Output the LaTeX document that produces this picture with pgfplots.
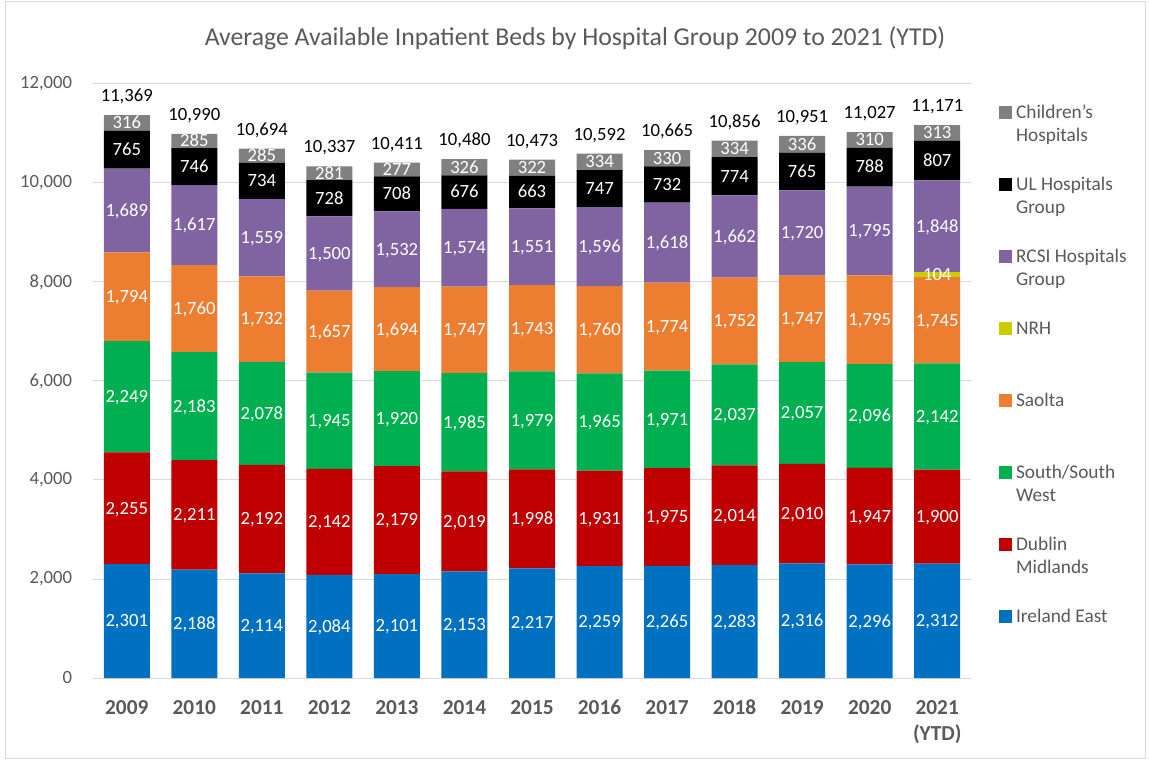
\documentclass[border=0pt]{standalone}
\usepackage{pgfplots}
\pgfplotsset{compat=1.18}
\usepackage{pgfplotstable}
\usepackage{fontspec}
\setmainfont{Carlito}
\definecolor{ie}{RGB}{0,112,192}
\definecolor{dm}{RGB}{192,0,0}
\definecolor{ssw}{RGB}{0,176,80}
\definecolor{sao}{RGB}{237,125,49}
\definecolor{nrh}{RGB}{204,204,0}
\definecolor{rcsi}{RGB}{128,100,162}
\definecolor{ul}{RGB}{0,0,0}
\definecolor{ch}{RGB}{128,128,128}
\definecolor{txt}{RGB}{89,89,89}
\definecolor{grd}{RGB}{217,217,217}
\pgfplotstableread{
x IE DM SSW SAO NRH RCSI UL CH TOT
0 2301 2255 2249 1794 0 1689 765 316 11369
1 2188 2211 2183 1760 0 1617 746 285 10990
2 2114 2192 2078 1732 0 1559 734 285 10694
3 2084 2142 1945 1657 0 1500 728 281 10337
4 2101 2179 1920 1694 0 1532 708 277 10411
5 2153 2019 1985 1747 0 1574 676 326 10480
6 2217 1998 1979 1743 0 1551 663 322 10473
7 2259 1931 1965 1760 0 1596 747 334 10592
8 2265 1975 1971 1774 0 1618 732 330 10665
9 2283 2014 2037 1752 0 1662 774 334 10856
10 2316 2010 2057 1747 0 1720 765 336 10951
11 2296 1947 2096 1795 0 1795 788 310 11027
12 2312 1900 2142 1745 104 1848 807 313 11171
}\data
\newcommand{\twol}[2]{\parbox[t]{3cm}{\raggedright #1\\#2}}
\pgfplotsset{
  /pgf/number format/.cd, fixed, precision=0, 1000 sep={,}, assume math mode=true,
  /pgfplots/.cd,
  lbl/.style={draw=none, mark=none, point meta=explicit, nodes near coords,
    every node near coord/.append style={anchor=base, yshift=-4.4pt, inner sep=0pt,
      text=white, font=\fontsize{14}{16}\selectfont}},
  geom/.style={scale only axis, width=658.5pt, height=445.5pt,
    xmin=-0.5, xmax=12.5, ymin=0, ymax=12000, clip=false},
}
\begin{document}
\begin{tikzpicture}
\useasboundingbox (-69.75pt,-61.5pt) rectangle (792pt,508.5pt);
\draw[grd, line width=0.75pt] (-65.25pt,-60pt) rectangle (789pt,507pt);
\node[text=txt, font=\fontsize{19.3}{22}\selectfont] at (361.5pt,480pt) {Average Available Inpatient Beds by Hospital Group 2009 to 2021 (YTD)};
\begin{axis}[geom,
  ybar stacked, bar width=34.5pt,
  axis line style={draw=none}, tick style={draw=none},
  ymajorgrids, grid style={grd, line width=0.75pt},
  ytick={0,2000,...,12000}, scaled y ticks=false,
  yticklabel style={font=\fontsize{14}{16}\selectfont, text=txt, inner sep=0pt, xshift=-15.5pt},
  xtick={0,...,12},
  xticklabels={2009,2010,2011,2012,2013,2014,2015,2016,2017,2018,2019,2020,{2021\\(YTD)}},
  xticklabel style={font=\bfseries\fontsize{16}{20}\selectfont, text=txt, align=center, inner sep=0pt, anchor=north, yshift=-16.5pt},
  reverse legend,
  legend image code/.code={\fill[#1] (0pt,-0.5pt) rectangle (9.75pt,9.25pt); \path (12.75pt,0pt);},
  legend style={at={(1.032,0.965)}, anchor=north west, draw=none, fill=none,
    inner sep=0pt, outer sep=0pt, row sep=0pt, column sep=0pt,
    cells={anchor=base west},
    nodes={inner sep=0pt, text=txt, font=\fontsize{14.5}{17.25}\selectfont,
      text height=10pt, text depth=44pt}},
]
\addplot[fill=ie, draw=none] table[x=x, y=IE] {\data};
\addlegendentry{Ireland East}
\addplot[fill=dm, draw=none] table[x=x, y=DM] {\data};
\addlegendentry{\twol{Dublin}{Midlands}}
\addplot[fill=ssw, draw=none] table[x=x, y=SSW] {\data};
\addlegendentry{\twol{South/South}{West}}
\addplot[fill=sao, draw=none] table[x=x, y=SAO] {\data};
\addlegendentry{Saolta}
\addplot[fill=nrh, draw=none] table[x=x, y=NRH] {\data};
\addlegendentry{NRH}
\addplot[fill=rcsi, draw=none] table[x=x, y=RCSI] {\data};
\addlegendentry{\twol{RCSI Hospitals}{Group}}
\addplot[fill=ul, draw=none] table[x=x, y=UL] {\data};
\addlegendentry{\twol{UL Hospitals}{Group}}
\addplot[fill=ch, draw=none] table[x=x, y=CH] {\data};
\addlegendentry{\twol{Children's}{Hospitals}}
\end{axis}
\begin{axis}[geom, axis lines=none, xtick=\empty, ytick=\empty]
\addplot[lbl] table[x=x, y expr=\thisrow{IE}/2, meta=IE] {\data};
\addplot[lbl] table[x=x, y expr=\thisrow{IE}+\thisrow{DM}/2, meta=DM] {\data};
\addplot[lbl] table[x=x, y expr=\thisrow{IE}+\thisrow{DM}+\thisrow{SSW}/2, meta=SSW] {\data};
\addplot[lbl] table[x=x, y expr=\thisrow{IE}+\thisrow{DM}+\thisrow{SSW}+\thisrow{SAO}/2, meta=SAO] {\data};
\addplot[lbl, skip coords between index={0}{12}] table[x=x, y expr=\thisrow{IE}+\thisrow{DM}+\thisrow{SSW}+\thisrow{SAO}+\thisrow{NRH}/2, meta=NRH] {\data};
\addplot[lbl] table[x=x, y expr=\thisrow{IE}+\thisrow{DM}+\thisrow{SSW}+\thisrow{SAO}+\thisrow{NRH}+\thisrow{RCSI}/2, meta=RCSI] {\data};
\addplot[lbl] table[x=x, y expr=\thisrow{IE}+\thisrow{DM}+\thisrow{SSW}+\thisrow{SAO}+\thisrow{NRH}+\thisrow{RCSI}+\thisrow{UL}/2, meta=UL] {\data};
\addplot[lbl] table[x=x, y expr=\thisrow{IE}+\thisrow{DM}+\thisrow{SSW}+\thisrow{SAO}+\thisrow{NRH}+\thisrow{RCSI}+\thisrow{UL}+\thisrow{CH}/2, meta=CH] {\data};
\addplot[lbl, every node near coord/.append style={text=black, yshift=14.4pt}] table[x=x, y=TOT, meta=TOT] {\data};
\end{axis}
\end{tikzpicture}
\end{document}
